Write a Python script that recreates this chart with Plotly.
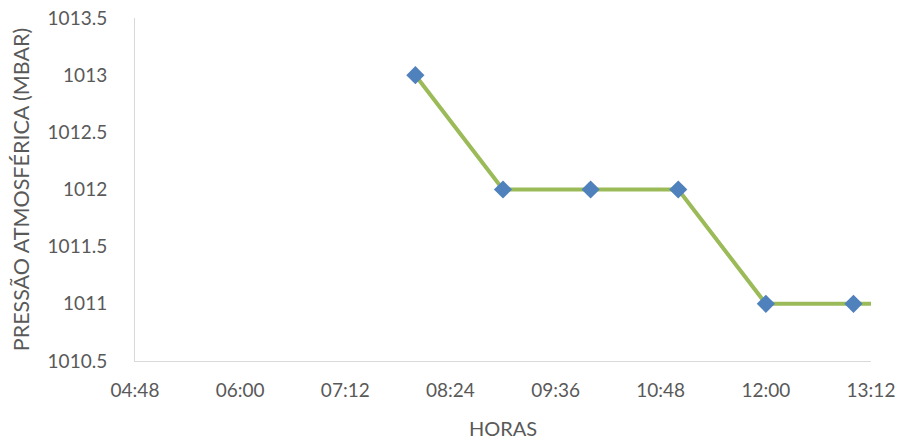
import plotly.graph_objects as go

# Hourly atmospheric pressure readings
horas = ["08:00", "09:00", "10:00", "11:00", "12:00", "13:00", "14:00"]
pressao = [1013, 1012, 1012, 1012, 1011, 1011, 1011]

dia = "2020-01-01 "
x_vals = [dia + h for h in horas]

tick_vals = ["04:48", "06:00", "07:12", "08:24", "09:36", "10:48", "12:00", "13:12"]
y_ticks = [1010.5, 1011, 1011.5, 1012, 1012.5, 1013, 1013.5]

font_family = "Lato, Open Sans, sans-serif"
label_color = "#595959"
axis_color = "#D9D9D9"
fsize = 19

fig = go.Figure()
fig.add_trace(go.Scatter(
    x=x_vals,
    y=pressao,
    mode="lines+markers",
    line=dict(color="#9BBB59", width=4),
    marker=dict(symbol="diamond", size=14, color="#4F81BD"),
    cliponaxis=True,
))

fig.update_layout(
    width=903,
    height=445,
    margin=dict(l=135, r=32, t=18, b=84),
    paper_bgcolor="white",
    plot_bgcolor="white",
    showlegend=False,
    font=dict(family=font_family, size=fsize, color=label_color),
)

fig.update_xaxes(
    type="date",
    range=[dia + tick_vals[0], dia + tick_vals[-1]],
    tickvals=[dia + t for t in tick_vals],
    ticktext=tick_vals,
    showgrid=False,
    zeroline=False,
    showline=True,
    linecolor=axis_color,
    linewidth=1,
    ticks="",
    automargin=False,
    ticklabelstandoff=12,
    tickfont=dict(size=fsize, color=label_color),
    title=dict(text="HORAS", font=dict(size=20, color=label_color), standoff=22),
)

fig.update_yaxes(
    range=[y_ticks[0], y_ticks[-1]],
    tickvals=y_ticks,
    ticktext=[f"{v:g}" for v in y_ticks],
    showgrid=False,
    zeroline=False,
    showline=True,
    linecolor=axis_color,
    linewidth=1,
    ticks="",
    automargin=False,
    ticklabelstandoff=23,
    tickfont=dict(size=fsize, color=label_color),
    title=dict(text="PRESSÃO ATMOSFÉRICA (MBAR)", font=dict(size=21.5, color=label_color), standoff=12),
)

fig.write_html("out.html")
